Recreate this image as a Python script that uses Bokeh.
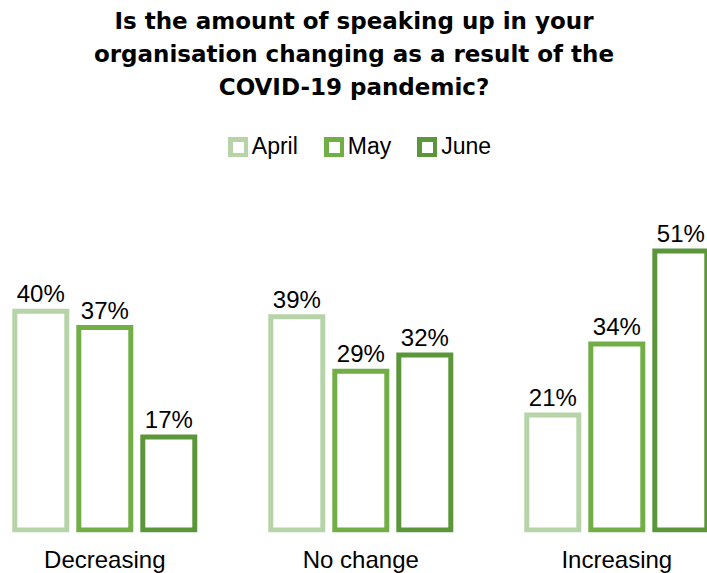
from bokeh.plotting import figure
from bokeh.models import ColumnDataSource, Range1d, FixedTicker, Legend, LegendItem, Title
from bokeh.transform import dodge
from bokeh.core.properties import value
from bokeh.embed import file_html
from bokeh.resources import INLINE

categories = ["Decreasing", "No change", "Increasing"]
months = ["April", "May", "June"]
april = [40, 39, 21]
may = [37, 29, 34]
june = [17, 32, 51]
title_lines = [
    "Is the amount of speaking up in your",
    "organisation changing as a result of the",
    "COVID-19 pandemic?",
]

series = [april, may, june]
colors = ["#B7D4A9", "#72AE46", "#5C963A"]
offsets = [-0.25, 0.0, 0.25]

p = figure(frame_width=707, frame_height=430,
           x_range=Range1d(-0.4074, 2.3543), y_range=Range1d(-0.457, 78.15),
           output_backend="svg", toolbar_location=None, title=None,
           y_axis_location=None,
           min_border_left=0, min_border_right=0, min_border_bottom=41, min_border_top=102)
p.background_fill_color = "white"
p.border_fill_color = "white"
p.outline_line_color = None
p.grid.visible = False

for line in reversed(title_lines):
    p.add_layout(Title(text=line, align="center", standoff=5,
                       text_font="DejaVu Sans", text_font_style="bold",
                       text_font_size="23px", text_color="#000000"), "above")

items = []
for name, vals, col, off in zip(months, series, colors, offsets):
    src = ColumnDataSource(dict(idx=list(range(len(categories))), val=vals,
                                label=[f"{v}%" for v in vals]))
    r = p.vbar(x=dodge("idx", off), top="val", bottom=0, width=0.2031, source=src,
               fill_color="white", line_color=col, line_width=5, line_join="miter")
    p.text(x=dodge("idx", off), y="val", text="label", source=src,
           text_align="center", text_baseline="alphabetic", y_offset=-17.5,
           text_font=value("Liberation Sans"), text_font_size="24px", text_color="#000000")
    items.append(LegendItem(label=name, renderers=[r]))

legend = Legend(items=items, orientation="horizontal", location=(227.8, 372),
                glyph_width=20, glyph_height=20, label_standoff=4, spacing=26,
                padding=0, margin=0, border_line_color=None, background_fill_alpha=0,
                label_text_font="Liberation Sans", label_text_font_size="23px",
                label_text_color="#000000")
p.add_layout(legend, "center")

ax = p.xaxis[0]
ax.ticker = FixedTicker(ticks=list(range(len(categories))))
ax.major_label_overrides = {i: c for i, c in enumerate(categories)}
ax.axis_line_color = None
ax.major_tick_line_color = None
ax.minor_tick_line_color = None
ax.major_tick_out = 0
ax.major_tick_in = 0
ax.major_label_standoff = 13
ax.major_label_text_font = "Liberation Sans"
ax.major_label_text_font_size = "24px"
ax.major_label_text_color = "#000000"

open("out.html", "w").write(file_html(p, INLINE))
